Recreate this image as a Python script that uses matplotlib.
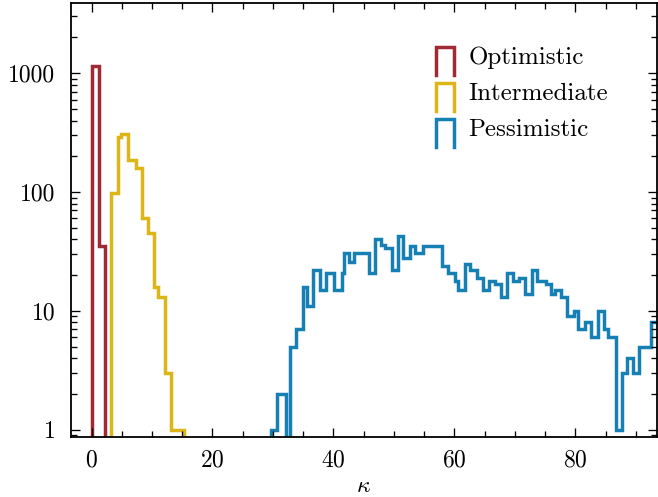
import numpy as np
import matplotlib
matplotlib.use("Agg")
import matplotlib.pyplot as plt
from matplotlib.lines import Line2D
from matplotlib.legend_handler import HandlerBase
from matplotlib.ticker import LogLocator, MultipleLocator, FuncFormatter, NullFormatter

plt.rcParams['font.family'] = 'serif'
plt.rcParams['font.serif'] = ['cmr10']
plt.rcParams['mathtext.fontset'] = 'cm'
plt.rcParams['axes.unicode_minus'] = False
plt.rcParams['axes.formatter.use_mathtext'] = True
plt.rcParams['font.size'] = 17

# data (bin edges in kappa, counts per bin)
labels = ["Optimistic", "Intermediate", "Pessimistic"]
colors = ["#a02a33", "#dcb516", "#1680b5"]

opt_edges = [0.0, 1.29, 2.18]
opt_counts = [1150, 35]

int_edges = [3.22, 4.30, 4.83, 6.08, 7.36, 8.30, 9.26, 10.41, 10.99, 12.23, 13.09, 15.29]
int_counts = [98, 288, 311, 186, 158, 61, 45, 16, 13, 3, 1]

pes_edges = [29.67, 30.74, 32.15, 32.89, 33.80, 35.01, 35.57, 36.66, 37.77, 38.81,
             40.08, 41.36, 41.69, 42.56, 43.47, 45.92, 46.86, 47.85, 48.51, 49.75,
             50.63, 51.57, 52.73, 53.52, 54.84, 57.93, 58.98, 60.08, 60.58, 61.74,
             62.61, 63.67, 64.71, 65.70, 66.66, 67.69, 68.68, 69.67, 70.66, 71.74,
             72.81, 73.64, 75.21, 76.03, 76.61, 77.69, 78.68, 79.75, 80.38, 81.65,
             82.56, 83.69, 84.71, 85.34, 86.69, 87.64, 88.56, 89.55, 90.61, 92.51,
             94.3]
pes_counts = [1, 2, 0, 5, 7, 16, 11, 22, 15, 21,
              15, 21, 31, 26, 31, 21, 40, 36, 34, 22,
              43, 28, 35, 31, 35, 24, 21, 18, 15, 25,
              22, 19, 15, 18, 17, 13, 21, 18, 19, 14,
              22, 18, 17, 14, 15, 13, 9, 10, 7, 8,
              6, 10, 7, 6, 1, 3, 4, 3, 5, 8]

LW = 2.5


class OpenBoxHandler(HandlerBase):
    # legend key drawn as a box without its bottom side
    def create_artists(self, legend, orig_handle, xdescent, ydescent,
                       width, height, fontsize, trans):
        x0 = -xdescent
        x1 = x0 + width
        yb = -0.45 * fontsize
        yt = 0.68 * fontsize
        line = Line2D([x0, x0, x1, x1], [yb, yt, yt, yb],
                      color=orig_handle.get_edgecolor(),
                      lw=orig_handle.get_linewidth(),
                      solid_joinstyle='miter', transform=trans)
        return [line]


fig = plt.figure(figsize=(6.58, 4.97), dpi=100)
ax = fig.add_axes([0.1074, 0.1201, 0.891, 0.8745])

series = [(opt_edges, opt_counts), (int_edges, int_counts), (pes_edges, pes_counts)]
handles = []
for (edges, counts), lab, col in zip(series, labels, colors):
    h = ax.stairs(np.array(counts, dtype=float), np.array(edges), baseline=0,
                  color=col, lw=LW, label=lab)
    handles.append(h)

ax.set_yscale('log')
ax.set_xlim(-3.45, 93.5)
ax.set_ylim(0.865, 3920)

ax.xaxis.set_major_locator(MultipleLocator(20))
ax.xaxis.set_minor_locator(MultipleLocator(5))
ax.yaxis.set_major_locator(LogLocator(base=10))
ax.yaxis.set_minor_locator(LogLocator(base=10, subs=np.arange(2, 10)))
ax.yaxis.set_major_formatter(FuncFormatter(lambda v, p: f"{v:g}"))
ax.yaxis.set_minor_formatter(NullFormatter())

for s in ax.spines.values():
    s.set_linewidth(1.3)
ax.tick_params(which='both', direction='in', top=True, right=True, width=0.95)
ax.tick_params(which='major', length=6.5)
ax.tick_params(which='minor', length=4.1)
ax.tick_params(axis='x', which='major', pad=9)
ax.tick_params(axis='y', which='major', pad=11)

ax.set_xlabel(r'$\kappa$', labelpad=2)

ax.legend(handles=handles, labels=labels, handler_map={h: OpenBoxHandler() for h in handles},
          loc='upper left', bbox_to_anchor=(0.6223, 0.90), borderaxespad=0, borderpad=0,
          frameon=False, fontsize=18, handlelength=0.72, handletextpad=0.6, labelspacing=0.55)

fig.savefig('out.png', dpi=100)
